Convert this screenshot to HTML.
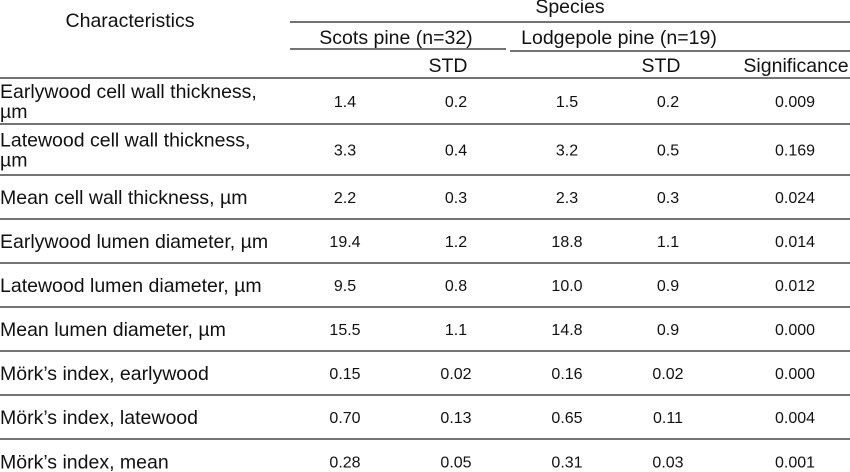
<!DOCTYPE html>
<html><head><meta charset="utf-8"><style>
html,body{margin:0;padding:0;background:#fff;}
svg{display:block;font-family:"Liberation Sans",Arial,sans-serif;fill:#111;}
</style></head><body>
<svg width="850" height="472" viewBox="0 0 850 472">
<g stroke="#222" stroke-width="1.3">
<line x1="290" y1="22" x2="850" y2="22"/>
<line x1="290" y1="49" x2="506" y2="49"/>
<line x1="510" y1="51" x2="850" y2="51"/>
<line x1="0" y1="78" x2="850" y2="78"/>
</g>
<g font-size="19.5" text-anchor="middle">
<text x="130" y="27">Characteristics</text>
<text x="570" y="13">Species</text>
<text x="396" y="44">Scots pine (n=32)</text>
<text x="619" y="44">Lodgepole pine (n=19)</text>
<text x="448" y="72">STD</text>
<text x="661" y="72">STD</text>
<text x="796" y="72">Significance</text>
</g>
<g id="rows"></g>
</svg>
<script>
const labels=[["Earlywood cell wall thickness,","µm"],["Latewood cell wall thickness,","µm"],["Mean cell wall thickness, µm"],["Earlywood lumen diameter, µm"],["Latewood lumen diameter, µm"],["Mean lumen diameter, µm"],["Mörk’s index, earlywood"],["Mörk’s index, latewood"],["Mörk’s index, mean"]];
const scotsMean=["1.4","3.3","2.2","19.4","9.5","15.5","0.15","0.70","0.28"];
const scotsStd=["0.2","0.4","0.3","1.2","0.8","1.1","0.02","0.13","0.05"];
const lodgeMean=["1.5","3.2","2.3","18.8","10.0","14.8","0.16","0.65","0.31"];
const lodgeStd=["0.2","0.5","0.3","1.1","0.9","0.9","0.02","0.11","0.03"];
const signif=["0.009","0.169","0.024","0.014","0.012","0.000","0.000","0.004","0.001"];
const ns="http://www.w3.org/2000/svg";
const g=document.getElementById('rows');
const tops=[78,124,175,219,263,307,351,395,439];
const bottoms=[124,175,219,263,307,351,395,439,484];
function txt(x,y,s,size,anchor){const t=document.createElementNS(ns,'text');t.setAttribute('x',x);t.setAttribute('y',y);t.setAttribute('font-size',size);t.setAttribute('text-anchor',anchor);t.textContent=s;g.appendChild(t);return t;}
labels.forEach((lab,i)=>{
 const top=tops[i],bot=bottoms[i],mid=(top+bot)/2;
 if(i>0){const l=document.createElementNS(ns,'line');l.setAttribute('x1',0);l.setAttribute('x2',850);l.setAttribute('y1',top);l.setAttribute('y2',top);l.setAttribute('stroke','#222');l.setAttribute('stroke-width','1.3');
 
 
 g.appendChild(l);}
 if(lab.length===2){
  const a=txt(0,mid-3,lab[0],19.5,'start');
  
  
  const b=txt(0,mid+17,lab[1],19.5,'start');
  
  
 } else {
  const a=txt(0,mid+7,lab[0],19.5,'start');
  
  
 }
 const vals=[[scotsMean[i],345],[scotsStd[i],456],[lodgeMean[i],567],[lodgeStd[i],668],[signif[i],795]];
 vals.forEach(v=>{const t=txt(v[1],mid+6,v[0],16,'middle');
  
  });
});
</script>
</body></html>
